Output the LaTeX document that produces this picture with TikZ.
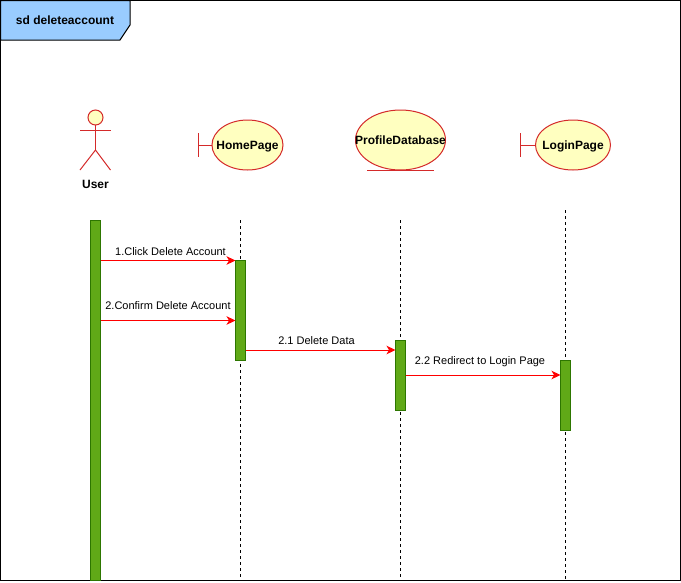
\documentclass[tikz,border=0pt]{standalone}
\usepackage{fontspec}
\setmainfont{Liberation Sans}
\usetikzlibrary{arrows.meta,shapes.geometric}
\definecolor{tabblue}{HTML}{99CCFF}
\definecolor{lifeyellow}{HTML}{FFFFC0}
\definecolor{lifered}{HTML}{D42A2A}
\definecolor{barfill}{HTML}{60A917}
\definecolor{barline}{HTML}{2D7600}
\tikzset{
  lifeobj/.style={ellipse,draw=lifered,fill=lifeyellow,line width=1pt,inner sep=0pt,outer sep=0pt,text depth=0pt,font=\bfseries\fontsize{12}{14}\selectfont},
  redline/.style={draw=lifered,line width=1pt},
  activebar/.style={rectangle,draw=barline,fill=barfill,line width=1pt,minimum width=10pt,inner sep=0pt,outer sep=0pt},
  lifeline/.style={black,line width=1pt,dash pattern=on 3pt off 3pt},
  message/.style={red,line width=1pt,-{Stealth[length=9pt,width=8.5pt,inset=2.5pt]}},
  msgtext/.style={inner sep=0pt,font=\fontsize{11}{13}\selectfont}
}
\begin{document}
\begin{tikzpicture}[x=1pt,y=-1pt]
  \useasboundingbox (0,0) rectangle (681,582);
  % frame and its tab
  \draw[black,line width=1pt] (0.5,0.5) rectangle (680,580.5);
  \draw[black,fill=tabblue,line width=1pt] (0.5,0.5) -- (130,0.5) -- (130,25) -- (120,40) -- (0.5,40) -- cycle;
  \node[inner sep=0pt,font=\bfseries\fontsize{12}{14}\selectfont] (framename) at (65,20.5) {sd deleteaccount};

  % lifelines
  \coordinate (hometop) at (240.5,220);
  \coordinate (homeend) at (240.5,580);
  \coordinate (datatop) at (400.5,220);
  \coordinate (dataend) at (400.5,580);
  \coordinate (logintop) at (565.5,210);
  \coordinate (loginend) at (565.5,580);
  \draw[lifeline] (hometop) -- (homeend);
  \draw[lifeline] (datatop) -- (dataend);
  \draw[lifeline] (logintop) -- (loginend);

  % user
  \node[circle,draw=lifered,fill=lifeyellow,line width=1pt,minimum size=15pt,inner sep=0pt,outer sep=0pt] (userhead) at (95.5,117.5) {};
  \coordinate (userhip) at (95.5,150);
  \coordinate (userarml) at (80,130);
  \coordinate (userarmr) at (110.5,130);
  \coordinate (userlegl) at (80,170);
  \coordinate (userlegr) at (110.5,170);
  \draw[redline] (userhead) -- (userhip);
  \draw[redline] (userarml) -- (userarmr);
  \draw[redline] (userlegl) -- (userhip) -- (userlegr);
  \node[inner sep=0pt,font=\bfseries\fontsize{12}{14}\selectfont] (username) at (95.5,184) {User};

  % boundaries and entity
  \node[lifeobj,minimum width=71pt,minimum height=50pt] (homepage) at (247.5,145) {\makebox[0pt]{HomePage}};
  \coordinate (homestem) at (198.5,145);
  \draw[redline] (homepage) -- (homestem);
  \draw[redline] (198.5,133) -- (198.5,157);

  \node[lifeobj,minimum width=90pt,minimum height=60pt] (profiledb) at (400.5,140) {\makebox[0pt]{ProfileDatabase}};
  \draw[redline] (367,170) -- (434,170);

  \node[lifeobj,minimum width=75pt,minimum height=50pt] (loginpage) at (573,145) {\makebox[0pt]{LoginPage}};
  \coordinate (loginstem) at (520.5,145);
  \draw[redline] (loginpage) -- (loginstem);
  \draw[redline] (520.5,133) -- (520.5,157);

  % activations
  \node[activebar,minimum height=360pt] (userbar) at (95.5,400) {};
  \node[activebar,minimum height=100pt] (homebar) at (240.5,310) {};
  \node[activebar,minimum height=70pt] (databar) at (400.5,375) {};
  \node[activebar,minimum height=70pt] (loginbar) at (565.5,395) {};

  % messages
  \coordinate (msgone) at (0,260.5);
  \coordinate (msgtwo) at (0,320.5);
  \coordinate (msgthree) at (0,350);
  \coordinate (msgfour) at (0,375);
  \draw[message] (userbar.east |- msgone) -- (homebar.west |- msgone);
  \draw[message] (userbar.east |- msgtwo) -- (homebar.west |- msgtwo);
  \draw[message] (homebar.east |- msgthree) -- (databar.west |- msgthree);
  \draw[message] (databar.east |- msgfour) -- (loginbar.west |- msgfour);
  \node[msgtext] (textone) at (170.5,252) {1.Click Delete Account};
  \node[msgtext] (texttwo) at (168,306) {2.Confirm Delete Account};
  \node[msgtext] (textthree) at (316.5,341) {2.1 Delete Data};
  \node[msgtext] (textfour) at (480,362) {2.2 Redirect to Login Page};
\end{tikzpicture}
\end{document}
